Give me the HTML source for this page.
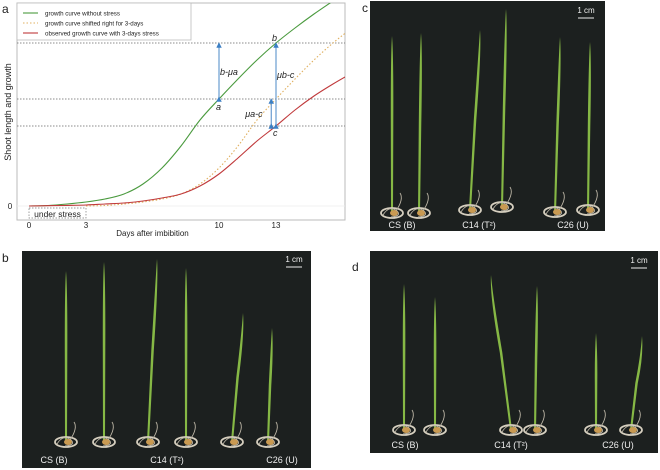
<!DOCTYPE html>
<html><head><meta charset="utf-8"><style>
body{margin:0;background:#fff;width:660px;height:470px;overflow:hidden;font-family:"Liberation Sans",sans-serif}
svg{position:absolute;left:0;top:0}
</style></head><body>
<svg id="fig" width="660" height="470" xmlns="http://www.w3.org/2000/svg">
<g id="chart"></g>
<g id="photos"></g>
</svg>
<script>
const days=[0,1,2,3,4,5,6,7,8,9,10,11,12,13,14,15,16,17];
const greenVals=[0,0.5,2,4,7,12,22,38,60,86,107,127,146,163,178,192,205,218];
const shiftDays=[3,4,5,6,7,8,9,10,11,12,13,14,15,16,17];
const shiftVals=[0,0.5,2,4,7,12,22,38,60,86,107,127,146,163,178];
const redVals=[0,0.3,0.6,1,2,3,5,8,12,20,32,48,65,80,96,110,122,133];
const xTicks=[0,3,10,13];
const levels=[163,107,80];
const NS="http://www.w3.org/2000/svg";
const L=17,R=345,T=3,B=220;
const xs=d=>29+d*19.0;
const ys=v=>206-v;
const chart=document.getElementById('chart');
function mk(tag,attrs,parent){const e=document.createElementNS(NS,tag);for(const k in attrs)e.setAttribute(k,attrs[k]);(parent||chart).appendChild(e);return e;}
const defs=mk('defs',{});
const cp=mk('clipPath',{id:'pc'},defs);mk('rect',{x:L,y:T,width:R-L,height:B-T},cp);
const frame=mk('rect',{x:L,y:T,width:R-L,height:B-T,fill:'none',stroke:'#bbb','stroke-width':1});

levels.forEach(v=>{const l=mk('line',{x1:L,x2:R,y1:ys(v),y2:ys(v),stroke:'#666','stroke-width':0.8,'stroke-dasharray':'1.5,1.5'});
});
mk('line',{x1:L,x2:R,y1:ys(0),y2:ys(0),stroke:'#eee','stroke-width':0.8});
function smooth(xa,ya){const p=xa.map((d,i)=>[xs(d),ys(ya[i])]);let s='M'+p[0][0]+','+p[0][1];
for(let i=0;i<p.length-1;i++){const p0=p[Math.max(0,i-1)],p1=p[i],p2=p[i+1],p3=p[Math.min(p.length-1,i+2)];
s+=' C'+(p1[0]+(p2[0]-p0[0])/6)+','+(p1[1]+(p2[1]-p0[1])/6)+' '+(p2[0]-(p3[0]-p1[0])/6)+','+(p2[1]-(p3[1]-p1[1])/6)+' '+p2[0]+','+p2[1];}return s;}
const g1=mk('path',{d:smooth(days,greenVals),fill:'none',stroke:'#4a9a3e','stroke-width':1.1,'clip-path':'url(#pc)'});

const g2=mk('path',{d:smooth(shiftDays,shiftVals),fill:'none',stroke:'#e0b060','stroke-width':1.1,'stroke-dasharray':'1.5,2','clip-path':'url(#pc)'});

const g3=mk('path',{d:smooth(days,redVals),fill:'none',stroke:'#c0393b','stroke-width':1.1,'clip-path':'url(#pc)'});

mk('defs',{}).innerHTML='<marker id="ah" markerWidth="5" markerHeight="5" refX="2.5" refY="2.5" orient="auto"><path d="M0,0 L5,2.5 L0,5z" fill="#3b7fc4"/></marker>';
function arrow(d,v1,v2,name){const a=mk('line',{x1:xs(d),x2:xs(d),y1:ys(v1),y2:ys(v2)+2,stroke:'#5b93cc','stroke-width':1.1,'marker-end':'url(#ah)','marker-start':'url(#ah)'});
}
arrow(10,107,163,'arrow-b-ua');arrow(13,80,163,'arrow-ub-c');arrow(12.75,80,107,'arrow-ua-c');
function txt(x,y,s,o,name){const t=mk('text',Object.assign({x:x,y:y,'font-size':10,fill:'#222'},o||{}));t.textContent=s;
return t;}
txt(xs(10)+1,75,'b-μa',{'font-style':'italic','font-size':9},'label-b-ua');
txt(xs(13)+1,78,'μb-c',{'font-style':'italic','font-size':9},'label-ub-c');
txt(xs(12.75)-26,117,'μa-c',{'font-style':'italic','font-size':9},'label-ua-c');
txt(xs(10)-3,110,'a',{'font-style':'italic','font-size':9},'point-a');
txt(xs(13)-4,41,'b',{'font-style':'italic','font-size':9},'point-b');
txt(xs(13)-3,136,'c',{'font-style':'italic','font-size':9},'point-c');
xTicks.forEach(d=>txt(xs(d),228,String(d),{'text-anchor':'middle','font-size':8},'x-tick'));
txt(10,209,'0',{'text-anchor':'middle','font-size':8},'y-tick');
txt(xs(6.5),236,'Days after imbibition',{'text-anchor':'middle','font-size':8},'x-axis-title');
txt(0,0,'Shoot length and growth',{'text-anchor':'middle','font-size':9,transform:'translate(11,112) rotate(-90)'},'y-axis-title');
const us=mk('rect',{x:xs(0),y:208,width:xs(3)-xs(0),height:10,fill:'none',stroke:'#777','stroke-width':0.7,'stroke-dasharray':'1.5,1.5'});

txt(xs(1.5),217,'under stress',{'text-anchor':'middle','font-size':8.5},'stress-label');
const lg=mk('rect',{x:17,y:3,width:174,height:37,fill:'#fff',stroke:'#bbb','stroke-width':0.8});

[['#4a9a3e','','growth curve without stress'],['#e0b060','1.5,2','growth curve shifted right for 3-days'],['#c0393b','','observed growth curve with 3-days stress']].forEach((e,i)=>{
const y=13+i*10;mk('line',{x1:23,x2:38,y1:y,y2:y,stroke:e[0],'stroke-width':1.1,'stroke-dasharray':e[1]});
txt(45,y+2.5,e[2],{'font-size':6.2},'legend-entry');});
txt(2,13,'a',{'font-size':12},'panel-a-label');txt(362,12,'c',{'font-size':12},'panel-c-label');
txt(2,262,'b',{'font-size':12},'panel-b-label');txt(352,271,'d',{'font-size':12},'panel-d-label');
// photos
const ph=document.getElementById('photos');
function photo(name,x0,y0,x1,y1,shoots,labels,cm){
const g=document.createElementNS(NS,'g');ph.appendChild(g);
mk('rect',{x:x0,y:y0,width:x1-x0,height:y1-y0,fill:'#1c201f'},g);
shoots.forEach(s=>{const [tx,ty,bx,by]=s;
mk('path',{d:`M${tx},${ty} Q${tx+1.6},${ty+20} ${(tx+bx)/2+1.3},${(ty+by)/2} L${bx+1},${by} L${bx-1},${by} L${(tx+bx)/2-1.2},${(ty+by)/2} Q${tx-1.4},${ty+20} ${tx},${ty}Z`,fill:'#86b845'},g);
mk('ellipse',{cx:bx,cy:by,rx:11,ry:5,fill:'none',stroke:'#d6cfbf','stroke-width':1.8},g);
mk('path',{d:`M${bx-9},${by+2} q6,-10 14,-4 q5,5 -6,6 M${bx+4},${by-2} q8,-12 4,-18`,fill:'none',stroke:'#bdb6a6','stroke-width':0.9},g);
mk('ellipse',{cx:bx+2,cy:by,rx:4,ry:3,fill:'#c99a52'},g);});
labels.forEach(l=>{const t=mk('text',{x:l[0],y:l[1],'font-size':9,fill:'#eee','text-anchor':'middle'},g);t.textContent=l[2];
});
const t=mk('text',{x:cm[0],y:cm[1],'font-size':8,fill:'#eee','text-anchor':'middle'},g);t.textContent='1 cm';

mk('line',{x1:cm[0]-8,x2:cm[0]+8,y1:cm[1]+5,y2:cm[1]+5,stroke:'#eee','stroke-width':1},g);}
photo('photo-c',370,1,605,231,[[392,36,392,213],[421,33,419,213],[480,30,470,210],[506,9,502,207],[560,37,555,212],[590,42,588,210]],
[[402,228,'CS (B)'],[479,228,'C14 (T²)'],[573,228,'C26 (U)']],[586,13]);
photo('photo-b',22,251,311,468,[[66,271,66,442],[104,262,104,442],[157,259,148,442],[186,268,186,442],[243,313,232,442],[272,328,268,442]],
[[54,463,'CS (B)'],[167,463,'C14 (T²)'],[282,463,'C26 (U)']],[294,262]);
photo('photo-d',370,251,658,453,[[404,284,404,430],[435,297,435,430],[491,275,511,430],[537,286,535,430],[596,333,596,430],[642,336,631,430]],
[[405,448,'CS (B)'],[511,448,'C14 (T²)'],[618,448,'C26 (U)']],[639,263]);
</script>
</body></html>
